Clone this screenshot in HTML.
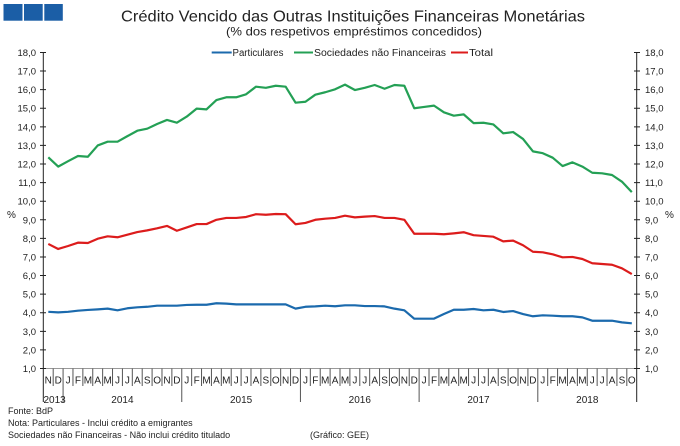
<!DOCTYPE html>
<html><head><meta charset="utf-8"><style>
html,body{margin:0;padding:0;background:#fff;}
svg{display:block;font-family:"Liberation Sans",Arial,sans-serif;}
</style></head><body>
<svg width="680" height="446" viewBox="0 0 680 446" xmlns="http://www.w3.org/2000/svg">
<rect width="680" height="446" fill="#fff"/>
<!-- logo -->
<rect x="3.5" y="4" width="19" height="16.7" fill="#1b5ea6"/>
<rect x="24" y="4" width="18.7" height="16.7" fill="#1b5ea6"/>
<rect x="44.3" y="4" width="18.5" height="16.7" fill="#1b5ea6"/>
<!-- titles -->
<text x="353" y="21.5" font-size="16" text-anchor="middle" fill="#222" textLength="464" lengthAdjust="spacingAndGlyphs">Crédito Vencido das Outras Instituições Financeiras Monetárias</text>
<text x="354" y="35.5" font-size="12" text-anchor="middle" fill="#222" textLength="256" lengthAdjust="spacingAndGlyphs">(% dos respetivos empréstimos concedidos)</text>
<!-- legend -->
<g font-size="10" fill="#222">
<line x1="211.7" y1="52.5" x2="231.7" y2="52.5" stroke="#1b6aad" stroke-width="2"/>
<text x="232.5" y="56" textLength="51" lengthAdjust="spacingAndGlyphs">Particulares</text>
<line x1="294" y1="52.5" x2="313" y2="52.5" stroke="#24a055" stroke-width="2"/>
<text x="314" y="56" textLength="132" lengthAdjust="spacingAndGlyphs">Sociedades não Financeiras</text>
<line x1="451" y1="52.5" x2="468" y2="52.5" stroke="#dc1c1c" stroke-width="2"/>
<text x="469" y="56" textLength="24" lengthAdjust="spacingAndGlyphs">Total</text>
</g>
<!-- axes -->
<line x1="43.3" y1="52" x2="43.3" y2="402" stroke="#222" stroke-width="1"/>
<line x1="636.7" y1="52" x2="636.7" y2="402" stroke="#222" stroke-width="1"/>
<line x1="43.3" y1="368.5" x2="636.7" y2="368.5" stroke="#999" stroke-width="1"/>
<g stroke="#222" stroke-width="1">
<path d="M40 52.47H46M40 71.06H46M40 89.65H46M40 108.24H46M40 126.83H46M40 145.42H46M40 164.01H46M40 182.6H46M40 201.19H46M40 219.78H46M40 238.37H46M40 256.96H46M40 275.55H46M40 294.14H46M40 312.73H46M40 331.32H46M40 349.91H46M40 368.5H46"/>
<path d="M634 52.47H640M634 71.06H640M634 89.65H640M634 108.24H640M634 126.83H640M634 145.42H640M634 164.01H640M634 182.6H640M634 201.19H640M634 219.78H640M634 238.37H640M634 256.96H640M634 275.55H640M634 294.14H640M634 312.73H640M634 331.32H640M634 349.91H640M634 368.5H640"/>
</g>
<g font-size="9.5" fill="#222" text-anchor="end">
<text x="36" y="56">18,0</text><text x="36" y="74.6">17,0</text><text x="36" y="93.2">16,0</text><text x="36" y="111.7">15,0</text><text x="36" y="130.3">14,0</text><text x="36" y="148.9">13,0</text><text x="36" y="167.5">12,0</text><text x="36" y="186.1">11,0</text><text x="36" y="204.7">10,0</text><text x="36" y="223.3">9,0</text><text x="36" y="241.9">8,0</text><text x="36" y="260.5">7,0</text><text x="36" y="279">6,0</text><text x="36" y="297.6">5,0</text><text x="36" y="316.2">4,0</text><text x="36" y="334.8">3,0</text><text x="36" y="353.4">2,0</text><text x="36" y="372">1,0</text>
</g>
<g font-size="9.5" fill="#222" text-anchor="start">
<text x="645" y="56">18,0</text><text x="645" y="74.6">17,0</text><text x="645" y="93.2">16,0</text><text x="645" y="111.7">15,0</text><text x="645" y="130.3">14,0</text><text x="645" y="148.9">13,0</text><text x="645" y="167.5">12,0</text><text x="645" y="186.1">11,0</text><text x="645" y="204.7">10,0</text><text x="645" y="223.3">9,0</text><text x="645" y="241.9">8,0</text><text x="645" y="260.5">7,0</text><text x="645" y="279">6,0</text><text x="645" y="297.6">5,0</text><text x="645" y="316.2">4,0</text><text x="645" y="334.8">3,0</text><text x="645" y="353.4">2,0</text><text x="645" y="372">1,0</text>
</g>
<text x="7" y="218" font-size="10" fill="#222">%</text>
<text x="665" y="218" font-size="10" fill="#222">%</text>
<!-- month separators -->
<path stroke="#555" stroke-width="1" fill="none" d="M53.19 368.5V386M72.97 368.5V386M82.86 368.5V386M92.75 368.5V386M102.64 368.5V386M112.53 368.5V386M122.42 368.5V386M132.31 368.5V386M142.2 368.5V386M152.09 368.5V386M161.98 368.5V386M171.87 368.5V386M191.65 368.5V386M201.54 368.5V386M211.43 368.5V386M221.32 368.5V386M231.21 368.5V386M241.1 368.5V386M250.99 368.5V386M260.88 368.5V386M270.77 368.5V386M280.66 368.5V386M290.55 368.5V386M310.33 368.5V386M320.22 368.5V386M330.11 368.5V386M340 368.5V386M349.89 368.5V386M359.78 368.5V386M369.67 368.5V386M379.56 368.5V386M389.45 368.5V386M399.34 368.5V386M409.23 368.5V386M429.01 368.5V386M438.9 368.5V386M448.79 368.5V386M458.68 368.5V386M468.57 368.5V386M478.46 368.5V386M488.35 368.5V386M498.24 368.5V386M508.13 368.5V386M518.02 368.5V386M527.91 368.5V386M547.69 368.5V386M557.58 368.5V386M567.47 368.5V386M577.36 368.5V386M587.25 368.5V386M597.14 368.5V386M607.03 368.5V386M616.92 368.5V386M626.81 368.5V386"/>
<path stroke="#555" stroke-width="1" fill="none" d="M63.08 368.5V402M181.76 368.5V402M300.44 368.5V402M419.12 368.5V402M537.8 368.5V402"/>
<text font-size="10" fill="#222" text-anchor="middle" y="383.5" x="48.3 58.19 68.08 77.97 87.86 97.75 107.64 117.53 127.42 137.31 147.2 157.09 166.98 176.87 186.76 196.65 206.54 216.43 226.32 236.21 246.1 255.99 265.88 275.77 285.66 295.55 305.44 315.33 325.22 335.11 345 354.89 364.78 374.67 384.56 394.45 404.34 414.23 424.12 434.01 443.9 453.79 463.68 473.57 483.46 493.35 503.24 513.13 523.02 532.91 542.8 552.69 562.58 572.47 582.36 592.25 602.14 612.03 621.92 631.81">NDJFMAMJJASONDJFMAMJJASONDJFMAMJJASONDJFMAMJJASONDJFMAMJJASO</text>
<g font-size="10" fill="#222">
<text x="43.5" y="403">2013</text>
<text x="122.4" y="403" text-anchor="middle">2014</text>
<text x="241.1" y="403" text-anchor="middle">2015</text>
<text x="359.8" y="403" text-anchor="middle">2016</text>
<text x="478.5" y="403" text-anchor="middle">2017</text>
<text x="587.3" y="403" text-anchor="middle">2018</text>
</g>
<!-- series -->
<g transform="translate(48.3,387.09) scale(9.89,-18.59)" fill="none" stroke-linejoin="round">
<polyline vector-effect="non-scaling-stroke" stroke="#24a055" stroke-width="2.2" points="0,12.36 1,11.86 2,12.15 3,12.43 4,12.39 5,13.0 6,13.2 7,13.2 8,13.5 9,13.79 10,13.9 11,14.15 12,14.37 13,14.22 14,14.55 15,14.98 16,14.94 17,15.44 18,15.59 19,15.59 20,15.75 21,16.16 22,16.1 23,16.21 24,16.16 25,15.3 26,15.35 27,15.73 28,15.86 29,16.02 30,16.27 31,15.98 32,16.1 33,16.25 34,16.05 35,16.25 36,16.21 37,15.0 38,15.07 39,15.14 40,14.78 41,14.6 42,14.67 43,14.2 44,14.22 45,14.13 46,13.65 47,13.72 48,13.35 49,12.68 50,12.58 51,12.34 52,11.89 53,12.09 54,11.86 55,11.53 56,11.5 57,11.41 58,11.05 59,10.49"/>
<polyline vector-effect="non-scaling-stroke" stroke="#dc1c1c" stroke-width="2.2" points="0,7.7 1,7.43 2,7.59 3,7.77 4,7.75 5,7.98 6,8.11 7,8.06 8,8.2 9,8.34 10,8.43 11,8.54 12,8.67 13,8.41 14,8.59 15,8.77 16,8.77 17,9.0 18,9.1 19,9.1 20,9.15 21,9.3 22,9.27 23,9.31 24,9.3 25,8.76 26,8.83 27,9.0 28,9.06 29,9.1 30,9.22 31,9.13 32,9.17 33,9.2 34,9.1 35,9.1 36,9.0 37,8.25 38,8.25 39,8.25 40,8.22 41,8.27 42,8.33 43,8.17 44,8.13 45,8.09 46,7.84 47,7.88 48,7.63 49,7.28 50,7.25 51,7.14 52,6.98 53,7.0 54,6.89 55,6.66 56,6.62 57,6.58 58,6.39 59,6.08"/>
<polyline vector-effect="non-scaling-stroke" stroke="#1b6aad" stroke-width="2.2" points="0,4.05 1,4.02 2,4.05 3,4.11 4,4.15 5,4.18 6,4.22 7,4.13 8,4.24 9,4.29 10,4.32 11,4.38 12,4.38 13,4.38 14,4.42 15,4.43 16,4.43 17,4.51 18,4.49 19,4.45 20,4.45 21,4.45 22,4.45 23,4.45 24,4.45 25,4.22 26,4.32 27,4.34 28,4.38 29,4.35 30,4.4 31,4.4 32,4.36 33,4.36 34,4.34 35,4.22 36,4.13 37,3.68 38,3.68 39,3.68 40,3.93 41,4.16 42,4.16 43,4.2 44,4.13 45,4.16 46,4.04 47,4.09 48,3.93 49,3.81 50,3.86 51,3.84 52,3.81 53,3.81 54,3.75 55,3.57 56,3.57 57,3.57 58,3.48 59,3.43"/>
</g>
<!-- footer -->
<g font-size="9" fill="#222">
<text x="8" y="414">Fonte: BdP</text>
<text x="8" y="426">Nota: Particulares - Inclui crédito a emigrantes</text>
<text x="8" y="438">Sociedades não Financeiras - Não inclui crédito titulado</text>
<text x="310" y="438">(Gráfico: GEE)</text>
</g>
</svg>
</body></html>
